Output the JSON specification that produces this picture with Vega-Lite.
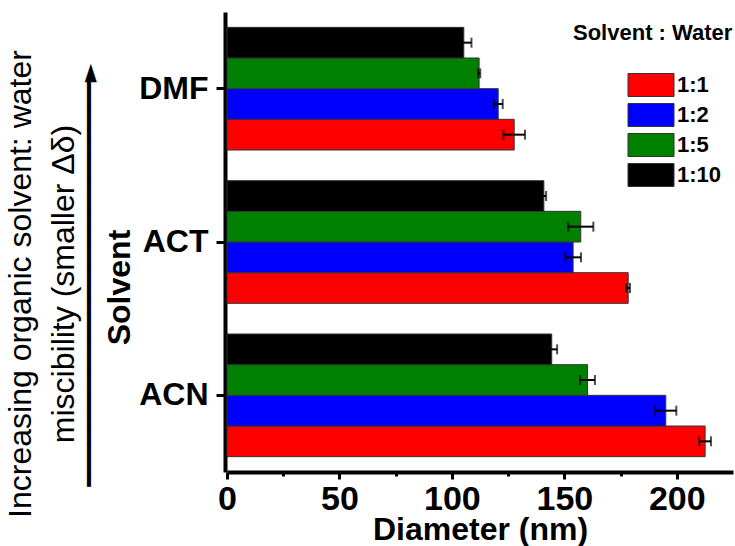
{
  "$schema": "https://vega.github.io/schema/vega-lite/v6.json",
  "width": 506,
  "height": 460,
  "autosize": "none",
  "padding": {"left": 227, "top": 12, "right": 2, "bottom": 74},
  "background": "white",
  "config": {"view": {"stroke": null}, "font": "Liberation Sans"},
  "title": {
    "text": ["Increasing organic solvent: water", "miscibility (smaller Δδ)"],
    "subtitle": "\u2800━━━━━━━━━━━━━━━━━━━━━━━━━━━━►",
    "orient": "left",
    "anchor": "middle",
    "font": "Liberation Sans",
    "fontSize": 32,
    "fontWeight": "normal",
    "lineHeight": 43,
    "color": "black",
    "subtitleFont": "DejaVu Sans",
    "subtitleFontSize": 24,
    "subtitleColor": "black",
    "subtitlePadding": -3,
    "offset": 0,
    "dx": -42
  },
  "data": {
    "values": [
      {"solvent": "DMF", "ratio": "1:1", "d": 127.7, "err": 4.8},
      {"solvent": "DMF", "ratio": "1:2", "d": 120.6, "err": 2.0},
      {"solvent": "DMF", "ratio": "1:5", "d": 112.1, "err": 0.5},
      {"solvent": "DMF", "ratio": "1:10", "d": 105.3, "err": 3.4},
      {"solvent": "ACT", "ratio": "1:1", "d": 178.4, "err": 0.8},
      {"solvent": "ACT", "ratio": "1:2", "d": 153.9, "err": 3.5},
      {"solvent": "ACT", "ratio": "1:5", "d": 157.3, "err": 5.6},
      {"solvent": "ACT", "ratio": "1:10", "d": 140.9, "err": 1.0},
      {"solvent": "ACN", "ratio": "1:1", "d": 212.6, "err": 2.6},
      {"solvent": "ACN", "ratio": "1:2", "d": 195.1, "err": 4.7},
      {"solvent": "ACN", "ratio": "1:5", "d": 160.3, "err": 3.3},
      {"solvent": "ACN", "ratio": "1:10", "d": 144.4, "err": 2.4}
    ]
  },
  "encoding": {
    "y": {
      "field": "solvent",
      "type": "nominal",
      "sort": ["DMF", "ACT", "ACN"],
      "scale": {"paddingInner": 0.2, "paddingOuter": 0.1},
      "axis": {
        "title": "Solvent",
        "titleFontSize": 32,
        "titleFontWeight": "bold",
        "titleColor": "black",
        "titleAngle": -90,
        "titleX": -96,
        "titleY": 275,
        "titleBaseline": "alphabetic",
        "labelFontSize": 32,
        "labelFontWeight": "bold",
        "labelColor": "black",
        "labelPadding": 8,
        "tickSize": 9,
        "tickWidth": 3,
        "tickColor": "black",
        "domainColor": "black",
        "domainWidth": 4,
        "offset": 2
      }
    },
    "yOffset": {
      "field": "ratio",
      "sort": ["1:10", "1:5", "1:2", "1:1"],
      "scale": {"paddingInner": 0, "paddingOuter": 0}
    },
    "x": {
      "field": "d",
      "type": "quantitative",
      "scale": {"domain": [0, 225], "nice": false},
      "axis": {
        "title": "Diameter (nm)",
        "values": [0, 25, 50, 75, 100, 125, 150, 175, 200],
        "labelExpr": "datum.value % 50 === 0 ? datum.label : ''",
        "labelFlush": false,
        "labelOverlap": false,
        "labelFontSize": 34,
        "labelFontWeight": "bold",
        "labelColor": "black",
        "labelPadding": 3,
        "titleFontSize": 32,
        "titleFontWeight": "bold",
        "titleColor": "black",
        "titlePadding": -2,
        "tickSize": {"condition": {"test": "datum.value % 50 === 0", "value": 7}, "value": 4},
        "tickWidth": 3,
        "tickColor": "black",
        "domainColor": "black",
        "domainWidth": 4,
        "grid": false
      }
    }
  },
  "layer": [
    {
      "mark": {"type": "bar", "stroke": "#333333", "strokeWidth": 1},
      "encoding": {
        "fill": {
          "field": "ratio",
          "type": "nominal",
          "sort": ["1:1", "1:2", "1:5", "1:10"],
          "scale": {"domain": ["1:1", "1:2", "1:5", "1:10"], "range": ["#ff0000", "#0000ff", "#008000", "#000000"]},
          "legend": {
            "title": "Solvent : Water",
            "orient": "none",
            "legendX": 346,
            "legendY": 11,
            "padding": 0,
            "titleFontSize": 22,
            "titleFontWeight": "bold",
            "titleColor": "black",
            "titlePadding": 28,
            "labelFontSize": 22,
            "labelFontWeight": "bold",
            "labelColor": "black",
            "symbolType": "M-2,-1H2V1H-2Z",
            "symbolSize": 529,
            "symbolStrokeColor": "#333333",
            "symbolStrokeWidth": 1,
            "symbolOpacity": 1,
            "symbolOffset": 66,
            "labelOffset": 14,
            "rowPadding": 2
          }
        }
      }
    },
    {
      "mark": {
        "type": "errorbar",
        "color": "black",
        "thickness": 2,
        "ticks": {"size": 10, "thickness": 2, "color": "black"}
      },
      "encoding": {
        "xError": {"field": "err"}
      }
    }
  ]
}
